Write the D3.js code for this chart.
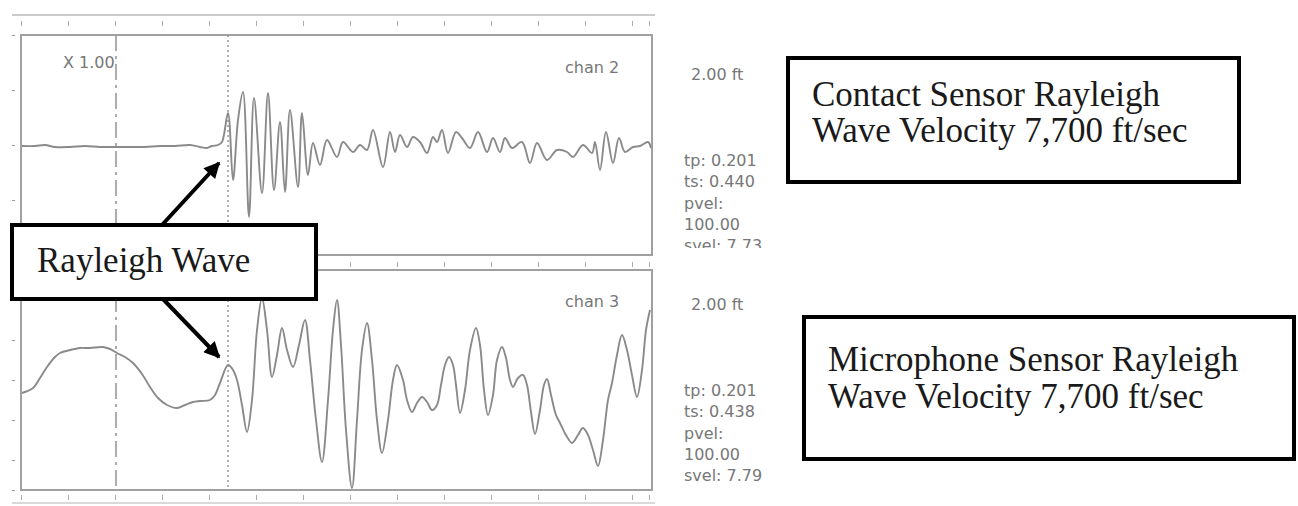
<!DOCTYPE html>
<html>
<head>
<meta charset="utf-8">
<script src="https://cdn.jsdelivr.net/npm/d3@7"></script>
<style>
  body { margin: 0; background: #fff; }
  svg { display: block; }
</style>
</head>
<body>
<div id="chart"></div>
<script>
// values: time in ms from the left edge of the trace, amplitude in trace units
var chan2Time = [1,14,24,34,49,64,79,95,109,124,139,154,169,179,186,191,197,201,207,212,217,222,228,233,241,247,253,259,264,269,277,281,287,292,299,306,316,322,332,339,346,352,362,369,374,379,386,392,399,406,412,416,421,427,435,441,449,457,466,472,479,484,491,501,509,516,526,536,546,552,562,571,574,579,585,592,598,604,612,619,627,630];
var chan2Amp = [-1,-1,0,-2,-2,-1,-2,-2,-2,-2,-1,-1,0,-2,-3,-1,0,3,32,-35,25,53,-72,47,-48,52,-45,23,-47,35,-42,32,-30,2,-20,5,-12,3,-7,0,-5,15,-22,13,-7,10,-2,8,3,-8,8,3,15,-8,13,7,-3,13,-7,7,-7,7,-3,3,-18,2,-15,-5,-7,-12,0,-8,3,-25,13,-18,7,-7,-2,-1,3,-3];

var chan3Time = [1,12,19,26,34,39,49,59,69,82,89,96,104,112,121,129,137,146,156,164,172,179,189,194,199,207,212,216,221,226,231,236,241,246,251,256,261,266,272,278,284,289,295,301,307,312,316,320,325,331,336,341,346,351,356,361,367,372,376,382,386,391,396,401,406,411,416,420,424,428,432,435,439,444,449,455,459,463,467,472,476,481,485,489,492,497,502,506,510,514,519,523,526,530,535,539,545,551,557,562,567,572,577,582,587,591,596,601,606,611,616,621,625,629];
var chan3Amp = [-13,-8,2,13,23,27,30,32,32,33,31,27,23,17,6,-7,-18,-25,-28,-25,-22,-21,-20,-15,-3,15,10,0,-25,-52,-20,50,82,50,3,25,52,30,13,35,60,20,-40,-82,-20,50,80,35,-50,-108,-40,30,57,20,-40,-73,-40,0,15,0,-20,-32,-23,-17,-22,-30,-25,-5,15,23,15,-5,-33,-10,30,52,35,-10,-35,-15,20,33,22,0,-7,2,5,-5,-32,-54,-30,-5,1,-15,-35,-43,-55,-63,-55,-48,-55,-70,-86,-60,-20,-3,25,45,30,5,-17,10,50,70];

// ruler and side tick positions
var rulerTicks = [0,47,94,141,188,235,282,329,376,423,470,517,564,611,628];
var chan2Ticks = [110,55,0,-55,-110];
var chan3Ticks = [110,80,40,0,-40,-80,-110];

// pick lines (dash = reference, dot = tp)
var dashTime = 95;
var dotTime = 207;

var chan2Info = ["tp: 0.201","ts: 0.440","pvel:","100.00","svel: 7.73"];
var chan3Info = ["tp: 0.201","ts: 0.438","pvel:","100.00","svel: 7.79"];
var contactLines = ["Contact Sensor Rayleigh","Wave Velocity 7,700 ft/sec"];
var micLines = ["Microphone Sensor Rayleigh","Wave Velocity 7,700 ft/sec"];

var svgWidth = 1298;
var svgHeight = 506;

var svg = d3.select("#chart")
  .append("svg")
  .attr("width", svgWidth)
  .attr("height", svgHeight);

svg.append("rect")
  .attr("width", svgWidth)
  .attr("height", svgHeight)
  .attr("fill", "#fff");

// scales
var xScale = d3.scaleLinear().domain([0, 631]).range([21, 652]);
var y2Scale = d3.scaleLinear().domain([-110, 110]).range([255, 35]);
var y3Scale = d3.scaleLinear().domain([-110, 110]).range([490, 270]);

var grey = "#8a8a8a";
var textGrey = "#777";
var uiFont = "'DejaVu Sans', Verdana, sans-serif";
var serif = "'Liberation Serif', 'Times New Roman', serif";

// rulers along the top, middle and bottom
svg.append("line")
  .attr("x1", 12).attr("x2", 655)
  .attr("y1", 15).attr("y2", 15)
  .attr("stroke", "#bbb").attr("stroke-width", 1.5);

[21, 262, 495].forEach(function(yPos) {
  var g = svg.append("g")
    .attr("transform", `translate(0, ${yPos})`)
    .call(d3.axisBottom(xScale).tickValues(rulerTicks).tickSize(5).tickFormat(""));
  g.select(".domain").remove();
  g.selectAll("line").attr("stroke", "#aaa");
});

svg.append("line")
  .attr("x1", 12).attr("x2", 655)
  .attr("y1", 503).attr("y2", 503)
  .attr("stroke", "#ccc").attr("stroke-width", 1.5);

// side ticks
var left2 = svg.append("g")
  .attr("transform", "translate(15, 0)")
  .call(d3.axisLeft(y2Scale).tickValues(chan2Ticks).tickSize(3).tickFormat(""));
left2.select(".domain").remove();
left2.selectAll("line").attr("stroke", "#999");

var left3 = svg.append("g")
  .attr("transform", "translate(15, 0)")
  .call(d3.axisLeft(y3Scale).tickValues(chan3Ticks).tickSize(3).tickFormat(""));
left3.select(".domain").remove();
left3.selectAll("line").attr("stroke", "#999");

// panel frames
[y2Scale, y3Scale].forEach(function(ys) {
  svg.append("rect")
    .attr("x", xScale(0))
    .attr("y", ys(110))
    .attr("width", xScale(631) - xScale(0))
    .attr("height", ys(-110) - ys(110))
    .attr("fill", "none")
    .attr("stroke", "#a0a0a0")
    .attr("stroke-width", 2);
});

// pick lines through both panels
svg.append("line")
  .attr("x1", xScale(dashTime)).attr("x2", xScale(dashTime))
  .attr("y1", y2Scale(110)).attr("y2", y3Scale(-110))
  .attr("stroke", "#999").attr("stroke-width", 1.6)
  .attr("stroke-dasharray", "16,5,3,5");

svg.append("line")
  .attr("x1", xScale(dotTime)).attr("x2", xScale(dotTime))
  .attr("y1", y2Scale(110)).attr("y2", y3Scale(-110))
  .attr("stroke", "#888").attr("stroke-width", 1.3)
  .attr("stroke-dasharray", "2,3");

// traces
var chan2Data = chan2Time.map(function(t, i) { return {t: t, a: chan2Amp[i]}; });
var chan3Data = chan3Time.map(function(t, i) { return {t: t, a: chan3Amp[i]}; });

var line2 = d3.line()
  .x(d => xScale(d.t))
  .y(d => y2Scale(d.a))
  .curve(d3.curveCatmullRom.alpha(0.5));

var line3 = d3.line()
  .x(d => xScale(d.t))
  .y(d => y3Scale(d.a))
  .curve(d3.curveCatmullRom.alpha(0.5));

svg.append("path")
  .datum(chan2Data)
  .attr("d", line2)
  .attr("fill", "none")
  .attr("stroke", grey)
  .attr("stroke-width", 1.9);

svg.append("path")
  .datum(chan3Data)
  .attr("d", line3)
  .attr("fill", "none")
  .attr("stroke", grey)
  .attr("stroke-width", 1.9);

// panel labels
svg.append("text")
  .attr("x", 63).attr("y", 68)
  .style("font", `16px ${uiFont}`)
  .attr("fill", textGrey)
  .text("X 1.00");

svg.append("text")
  .attr("x", 565).attr("y", 73)
  .style("font", `16px ${uiFont}`)
  .attr("fill", textGrey)
  .text("chan 2");

svg.append("text")
  .attr("x", 565).attr("y", 307)
  .style("font", `16px ${uiFont}`)
  .attr("fill", textGrey)
  .text("chan 3");

// right hand readouts
svg.append("clipPath")
  .attr("id", "clipTop")
  .append("rect")
  .attr("x", 660).attr("y", 40).attr("width", 120).attr("height", 208);

svg.append("text")
  .attr("x", 691).attr("y", 80)
  .style("font", `16px ${uiFont}`)
  .attr("fill", textGrey)
  .text("2.00 ft");

svg.append("text")
  .attr("x", 691).attr("y", 310)
  .style("font", `16px ${uiFont}`)
  .attr("fill", textGrey)
  .text("2.00 ft");

svg.append("g")
  .attr("clip-path", "url(#clipTop)")
  .selectAll("text")
  .data(chan2Info)
  .enter()
  .append("text")
  .attr("x", 684)
  .attr("y", (d, i) => 166 + i * 21.3)
  .style("font", `16px ${uiFont}`)
  .attr("fill", textGrey)
  .text(d => d);

svg.append("g")
  .selectAll("text")
  .data(chan3Info)
  .enter()
  .append("text")
  .attr("x", 684)
  .attr("y", (d, i) => 396 + i * 21.3)
  .style("font", `16px ${uiFont}`)
  .attr("fill", textGrey)
  .text(d => d);

// arrows from the Rayleigh Wave box
var defs = svg.append("defs");
defs.append("marker")
  .attr("id", "head")
  .attr("viewBox", "0 0 10 10")
  .attr("refX", 9).attr("refY", 5)
  .attr("markerWidth", 4.5).attr("markerHeight", 4)
  .attr("orient", "auto")
  .append("path")
  .attr("d", "M0,0 L10,5 L0,10 Z")
  .attr("fill", "#000");

svg.append("line")
  .attr("x1", 162).attr("y1", 225)
  .attr("x2", 219).attr("y2", 163)
  .attr("stroke", "#000").attr("stroke-width", 4)
  .attr("marker-end", "url(#head)");

svg.append("line")
  .attr("x1", 162).attr("y1", 298)
  .attr("x2", 219).attr("y2", 357)
  .attr("stroke", "#000").attr("stroke-width", 4)
  .attr("marker-end", "url(#head)");

// annotation boxes
function noteBox(x, y, w, h, lines, tx, ty, gap) {
  svg.append("rect")
    .attr("x", x).attr("y", y)
    .attr("width", w).attr("height", h)
    .attr("fill", "#fff")
    .attr("stroke", "#000")
    .attr("stroke-width", 4);
  svg.append("g")
    .selectAll("text")
    .data(lines)
    .enter()
    .append("text")
    .attr("x", tx)
    .attr("y", (d, i) => ty + i * gap)
    .style("font", `35px ${serif}`)
    .attr("fill", "#1a1a1a")
    .text(d => d);
}

noteBox(12, 225, 304, 74, ["Rayleigh Wave"], 37, 272, 0);
noteBox(788, 58, 451, 124, contactLines, 812, 106, 36);
noteBox(804, 317, 490, 142, micLines, 828, 371, 37);
</script>
</body>
</html>
